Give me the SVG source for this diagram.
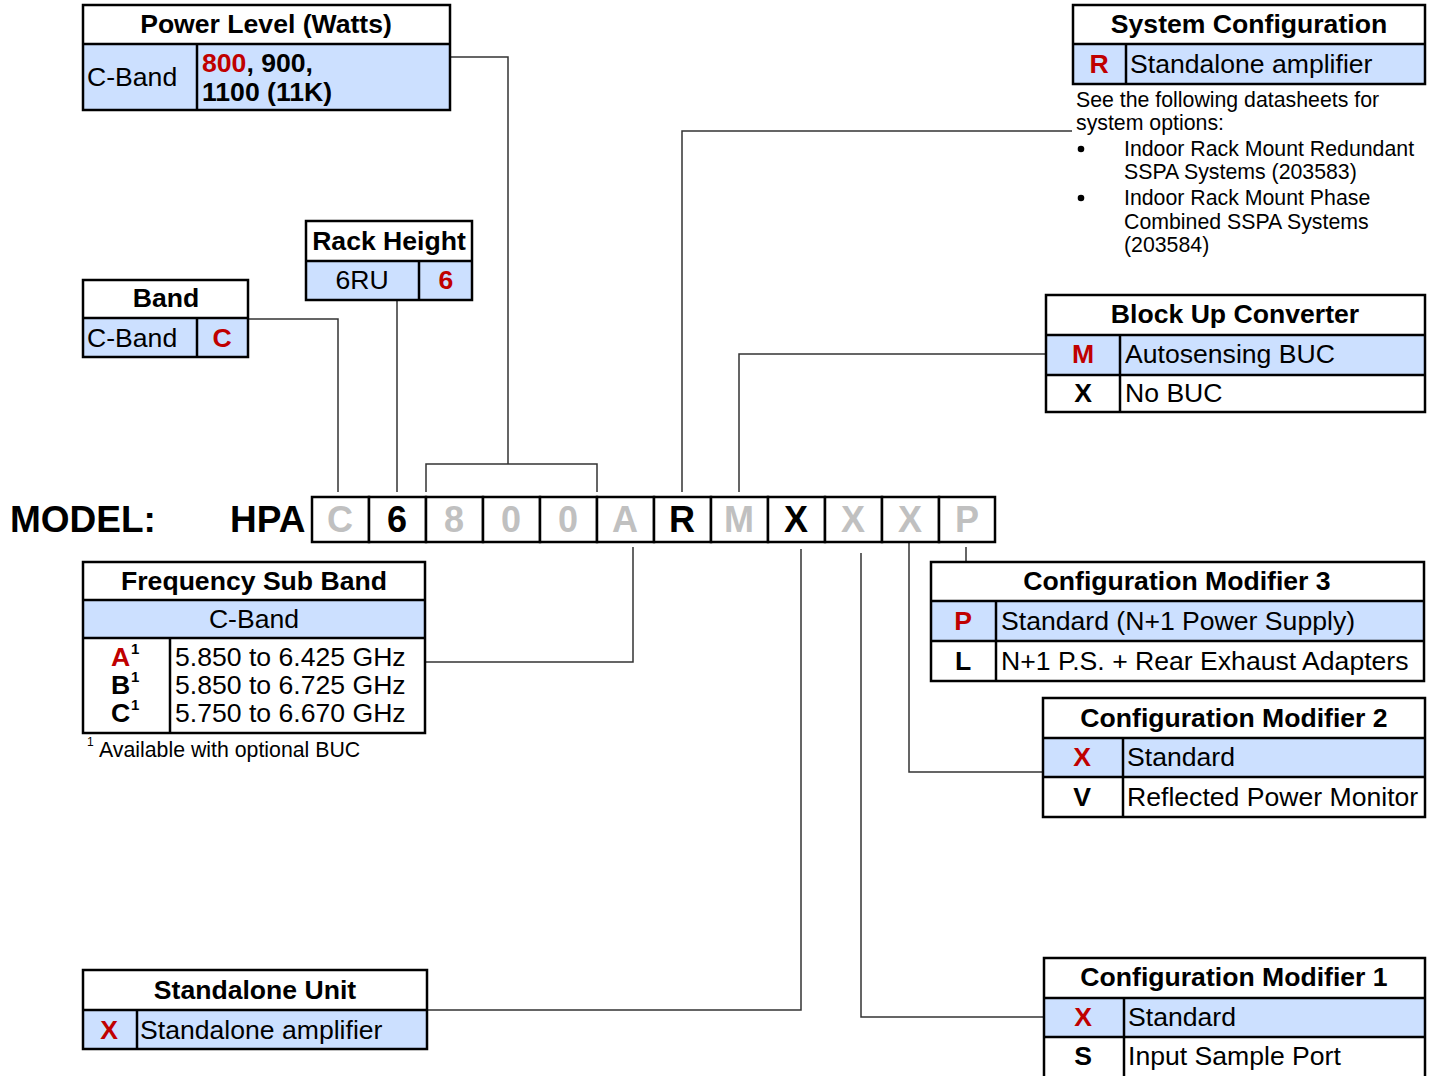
<svg xmlns="http://www.w3.org/2000/svg" width="1432" height="1076" viewBox="0 0 1432 1076">
<style>
text{font-family:"Liberation Sans",Arial,sans-serif;fill:#000}
.h{font-size:26.6px;font-weight:bold;text-anchor:middle}
.t{font-size:26.6px}
.c{text-anchor:middle}
.b{font-weight:bold}
.r{fill:#c00000}
.s{font-size:21.3px}
.box{fill:none;stroke:#000;stroke-width:2.5}
.bg{fill:#cce0ff}
.dv{stroke:#000;stroke-width:2.5}
.cn{fill:none;stroke:#333;stroke-width:1.5}
.m{font-size:36px;font-weight:bold}
.ml{font-size:37px;font-weight:bold}
.g{fill:#c0c0c0}
.cell{fill:#fff;stroke:#000;stroke-width:2.5}
</style>
<rect width="1432" height="1076" fill="#fff"/>

<g id="connectors">
<polyline class="cn" points="248,319 338,319 338,492"/>
<polyline class="cn" points="397,300 397,492"/>
<polyline class="cn" points="450,57 508,57 508,464"/>
<polyline class="cn" points="426,492 426,464 597,464 597,492"/>
<polyline class="cn" points="1072,131 682,131 682,492"/>
<polyline class="cn" points="1046,354 739,354 739,492"/>
<polyline class="cn" points="425,662 633,662 633,547"/>
<polyline class="cn" points="427,1010 801,1010 801,549"/>
<polyline class="cn" points="861,553 861,1017 1045,1017"/>
<polyline class="cn" points="909,540 909,772 1043,772"/>
<polyline class="cn" points="966,547 966,562"/>
</g>

<g id="model">
<text x="10" y="532" class="ml">MODEL:</text>
<text x="230" y="532" class="ml">HPA</text>
<rect class="cell" x="312" y="497" width="57" height="45"/>
<rect class="cell" x="369" y="497" width="57" height="45"/>
<rect class="cell" x="426" y="497" width="57" height="45"/>
<rect class="cell" x="483" y="497" width="57" height="45"/>
<rect class="cell" x="540" y="497" width="57" height="45"/>
<rect class="cell" x="597" y="497" width="57" height="45"/>
<rect class="cell" x="654" y="497" width="57" height="45"/>
<rect class="cell" x="711" y="497" width="57" height="45"/>
<rect class="cell" x="768" y="497" width="57" height="45"/>
<rect class="cell" x="825" y="497" width="57" height="45"/>
<rect class="cell" x="882" y="497" width="57" height="45"/>
<rect class="cell" x="939" y="497" width="56" height="45"/>
<g class="m" text-anchor="middle">
<text x="340" y="532" class="g">C</text>
<text x="397" y="532">6</text>
<text x="454" y="532" class="g">8</text>
<text x="511" y="532" class="g">0</text>
<text x="568" y="532" class="g">0</text>
<text x="625" y="532" class="g">A</text>
<text x="682" y="532">R</text>
<text x="739" y="532" class="g">M</text>
<text x="796" y="532">X</text>
<text x="853" y="532" class="g">X</text>
<text x="910" y="532" class="g">X</text>
<text x="967" y="532" class="g">P</text>
</g>
</g>

<g id="power-level">
<rect class="bg" x="83" y="44" width="367" height="66"/>
<rect class="box" x="83" y="5" width="367" height="105"/>
<line class="dv" x1="83" y1="44" x2="450" y2="44"/>
<line class="dv" x1="197" y1="44" x2="197" y2="110"/>
<text class="h" x="266" y="33">Power Level (Watts)</text>
<text class="t" x="87" y="86">C-Band</text>
<text class="t b" x="202" y="72"><tspan class="r">800</tspan>, 900,</text>
<text class="t b" x="202" y="101">1100 (11K)</text>
</g>

<g id="rack-height">
<rect class="bg" x="306" y="261" width="166" height="39"/>
<rect class="box" x="306" y="221" width="166" height="79"/>
<line class="dv" x1="306" y1="261" x2="472" y2="261"/>
<line class="dv" x1="419" y1="261" x2="419" y2="300"/>
<text class="h" x="389" y="250">Rack Height</text>
<text class="t c" x="362" y="289">6RU</text>
<text class="t c b r" x="446" y="289">6</text>
</g>

<g id="band">
<rect class="bg" x="83" y="318" width="165" height="39"/>
<rect class="box" x="83" y="280" width="165" height="77"/>
<line class="dv" x1="83" y1="318" x2="248" y2="318"/>
<line class="dv" x1="197" y1="318" x2="197" y2="357"/>
<text class="h" x="166" y="307">Band</text>
<text class="t" x="87" y="347">C-Band</text>
<text class="t c b r" x="222" y="347">C</text>
</g>

<g id="frequency-sub-band">
<rect class="bg" x="83" y="600" width="342" height="38"/>
<rect class="box" x="83" y="562" width="342" height="171"/>
<line class="dv" x1="83" y1="600" x2="425" y2="600"/>
<line class="dv" x1="83" y1="638" x2="425" y2="638"/>
<line class="dv" x1="170" y1="638" x2="170" y2="733"/>
<text class="h" x="254" y="590">Frequency Sub Band</text>
<text class="t c" x="254" y="628">C-Band</text>
<text class="t b r" x="111" y="666">A</text>
<text class="t b" x="111" y="694">B</text>
<text class="t b" x="111" y="722">C</text>
<g class="b" font-size="15">
<text x="131" y="654">1</text>
<text x="131" y="682">1</text>
<text x="131" y="710">1</text>
</g>
<text class="t" x="175" y="666">5.850 to 6.425 GHz</text>
<text class="t" x="175" y="694">5.850 to 6.725 GHz</text>
<text class="t" x="175" y="722">5.750 to 6.670 GHz</text>
<text x="87" y="746" font-size="12">1</text>
<text x="99" y="757" font-size="21.3">Available with optional BUC</text>
</g>

<g id="system-configuration">
<rect class="bg" x="1073" y="44" width="352" height="40"/>
<rect class="box" x="1073" y="5" width="352" height="79"/>
<line class="dv" x1="1073" y1="44" x2="1425" y2="44"/>
<line class="dv" x1="1126" y1="44" x2="1126" y2="84"/>
<text class="h" x="1249" y="33">System Configuration</text>
<text class="t c b r" x="1099" y="73">R</text>
<text class="t" x="1130" y="73">Standalone amplifier</text>
<g class="s">
<text x="1076" y="107">See the following datasheets for</text>
<text x="1076" y="130">system options:</text>
<circle cx="1081" cy="149" r="3.3"/>
<text x="1124" y="156">Indoor Rack Mount Redundant</text>
<text x="1124" y="179">SSPA Systems (203583)</text>
<circle cx="1081" cy="198" r="3.3"/>
<text x="1124" y="205">Indoor Rack Mount Phase</text>
<text x="1124" y="229">Combined SSPA Systems</text>
<text x="1124" y="252">(203584)</text>
</g>
</g>

<g id="block-up-converter">
<rect class="bg" x="1046" y="335" width="379" height="40"/>
<rect class="box" x="1046" y="295" width="379" height="117"/>
<line class="dv" x1="1046" y1="335" x2="1425" y2="335"/>
<line class="dv" x1="1046" y1="375" x2="1425" y2="375"/>
<line class="dv" x1="1120" y1="335" x2="1120" y2="412"/>
<text class="h" x="1235" y="323">Block Up Converter</text>
<text class="t c b r" x="1083" y="363">M</text>
<text class="t" x="1125" y="363">Autosensing BUC</text>
<text class="t c b" x="1083" y="402">X</text>
<text class="t" x="1125" y="402">No BUC</text>
</g>

<g id="configuration-modifier-3">
<rect class="bg" x="931" y="601" width="493" height="40"/>
<rect class="box" x="931" y="562" width="493" height="119"/>
<line class="dv" x1="931" y1="601" x2="1424" y2="601"/>
<line class="dv" x1="931" y1="641" x2="1424" y2="641"/>
<line class="dv" x1="996" y1="601" x2="996" y2="681"/>
<text class="h" x="1177" y="590">Configuration Modifier 3</text>
<text class="t c b r" x="963" y="630">P</text>
<text class="t" x="1001" y="630">Standard (N+1 Power Supply)</text>
<text class="t c b" x="963" y="670">L</text>
<text class="t" x="1001" y="670">N+1 P.S. + Rear Exhaust Adapters</text>
</g>

<g id="configuration-modifier-2">
<rect class="bg" x="1043" y="738" width="382" height="39"/>
<rect class="box" x="1043" y="698" width="382" height="119"/>
<line class="dv" x1="1043" y1="738" x2="1425" y2="738"/>
<line class="dv" x1="1043" y1="777" x2="1425" y2="777"/>
<line class="dv" x1="1123" y1="738" x2="1123" y2="817"/>
<text class="h" x="1234" y="727">Configuration Modifier 2</text>
<text class="t c b r" x="1082" y="766">X</text>
<text class="t" x="1127" y="766">Standard</text>
<text class="t c b" x="1082" y="806">V</text>
<text class="t" x="1127" y="806">Reflected Power Monitor</text>
</g>

<g id="standalone-unit">
<rect class="bg" x="83" y="1010" width="344" height="39"/>
<rect class="box" x="83" y="970" width="344" height="79"/>
<line class="dv" x1="83" y1="1010" x2="427" y2="1010"/>
<line class="dv" x1="137" y1="1010" x2="137" y2="1049"/>
<text class="h" x="255" y="999">Standalone Unit</text>
<text class="t c b r" x="109" y="1039">X</text>
<text class="t" x="140" y="1039">Standalone amplifier</text>
</g>

<g id="configuration-modifier-1">
<rect class="bg" x="1044" y="998" width="381" height="39"/>
<rect class="box" x="1044" y="958" width="381" height="122"/>
<line class="dv" x1="1044" y1="998" x2="1425" y2="998"/>
<line class="dv" x1="1044" y1="1037" x2="1425" y2="1037"/>
<line class="dv" x1="1124" y1="998" x2="1124" y2="1080"/>
<text class="h" x="1234" y="986">Configuration Modifier 1</text>
<text class="t c b r" x="1083" y="1026">X</text>
<text class="t" x="1128" y="1026">Standard</text>
<text class="t c b" x="1083" y="1065">S</text>
<text class="t" x="1128" y="1065">Input Sample Port</text>
</g>
</svg>
